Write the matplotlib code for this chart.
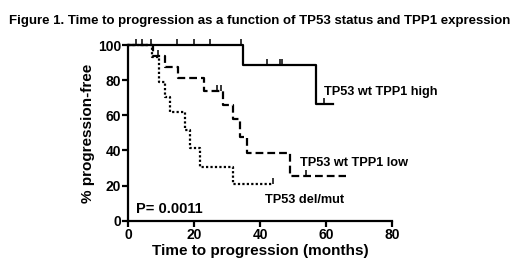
import matplotlib
matplotlib.use("Agg")
import matplotlib.pyplot as plt

plt.rcParams['font.family'] = ['Liberation Sans', 'DejaVu Sans']
plt.rcParams['font.weight'] = 'bold'

# step curves: event times and survival after each event (%)
high_t = [34.8, 57.1]
high_s = [88.9, 66.7]
high_cens_t = [2.3, 4.1, 6.8, 14.8, 19.9, 24.8, 34.2, 42.1, 46.0, 46.7, 59.5]
high_end = 62.1

low_t = [7.5, 11.0, 15.2, 22.9, 28.8, 31.8, 33.8, 35.9, 49.0]
low_s = [93.8, 87.5, 81.0, 73.8, 66.0, 57.7, 47.8, 38.4, 25.7]
low_cens_t = [9.0, 26.8, 28.1, 54.0]
low_end = 66.2

mut_t = [7.1, 9.4, 11.1, 12.6, 17.2, 18.7, 21.7, 31.8]
mut_s = [93.0, 79.1, 70.6, 62.0, 51.6, 41.2, 30.7, 20.9]
mut_cens_t = [43.9]
mut_end = 43.9


def km_xy(times, surv, end):
    xs, ys = [0], [100]
    cur = 100
    for t, s in zip(times, surv):
        xs += [t, t]
        ys += [cur, s]
        cur = s
    xs.append(end)
    ys.append(cur)
    return xs, ys


def surv_at(times, surv, t0):
    cur = 100
    for t, s in zip(times, surv):
        if t <= t0:
            cur = s
    return cur


fig = plt.figure(figsize=(5.2, 2.74), dpi=100)
ax = fig.add_axes([0.2467, 0.1945, 0.507, 0.641])

curves = [
    (high_t, high_s, high_cens_t, high_end, dict(linestyle='-')),
    (low_t, low_s, low_cens_t, low_end, dict(linestyle=(0, (3.5, 1.8)))),
    (mut_t, mut_s, mut_cens_t, mut_end, dict(linestyle=(0, (1.0, 1.0)))),
]
for t, s, ct, end, st in curves:
    xs, ys = km_xy(t, s, end)
    ax.plot(xs, ys, color='black', lw=1.6, clip_on=False, **st)
    cy = [surv_at(t, s, c) for c in ct]
    ax.plot(ct, cy, linestyle='none', marker=2, markersize=4,
            markeredgewidth=1.1, color='black', clip_on=False)

ax.set_xlim(0, 80)
ax.set_ylim(0, 100)
ax.set_xticks([0, 20, 40, 60, 80])
ax.set_yticks([0, 20, 40, 60, 80, 100])
for sp in ['top', 'right']:
    ax.spines[sp].set_visible(False)
for sp in ['left', 'bottom']:
    ax.spines[sp].set_linewidth(1.6)
ax.tick_params(direction='out', length=4, width=1.6, labelsize=10, pad=1)
for lab in ax.get_xticklabels() + ax.get_yticklabels():
    lab.set_fontweight('bold')

ax.set_xlabel('Time to progression (months)', fontsize=11, fontweight='bold', labelpad=2)
ax.set_ylabel('% progression-free', fontsize=11, fontweight='bold', labelpad=2)

ax.text(59.4, 73, 'TP53 wt TPP1 high', fontsize=9.2, fontweight='bold', va='center')
ax.text(52, 32.7, 'TP53 wt TPP1 low', fontsize=9.2, fontweight='bold', va='center')
ax.text(41.4, 11.8, 'TP53 del/mut', fontsize=9.2, fontweight='bold', va='center')
ax.text(2.3, 6.5, 'P= 0.0011', fontsize=10.5, fontweight='bold', va='center')

fig.text(0.5, 0.925, 'Figure 1. Time to progression as a function of TP53 status and TPP1 expression',
         ha='center', va='center', fontsize=9.5, fontweight='bold')

fig.savefig('out.png', dpi=100, facecolor='white')
